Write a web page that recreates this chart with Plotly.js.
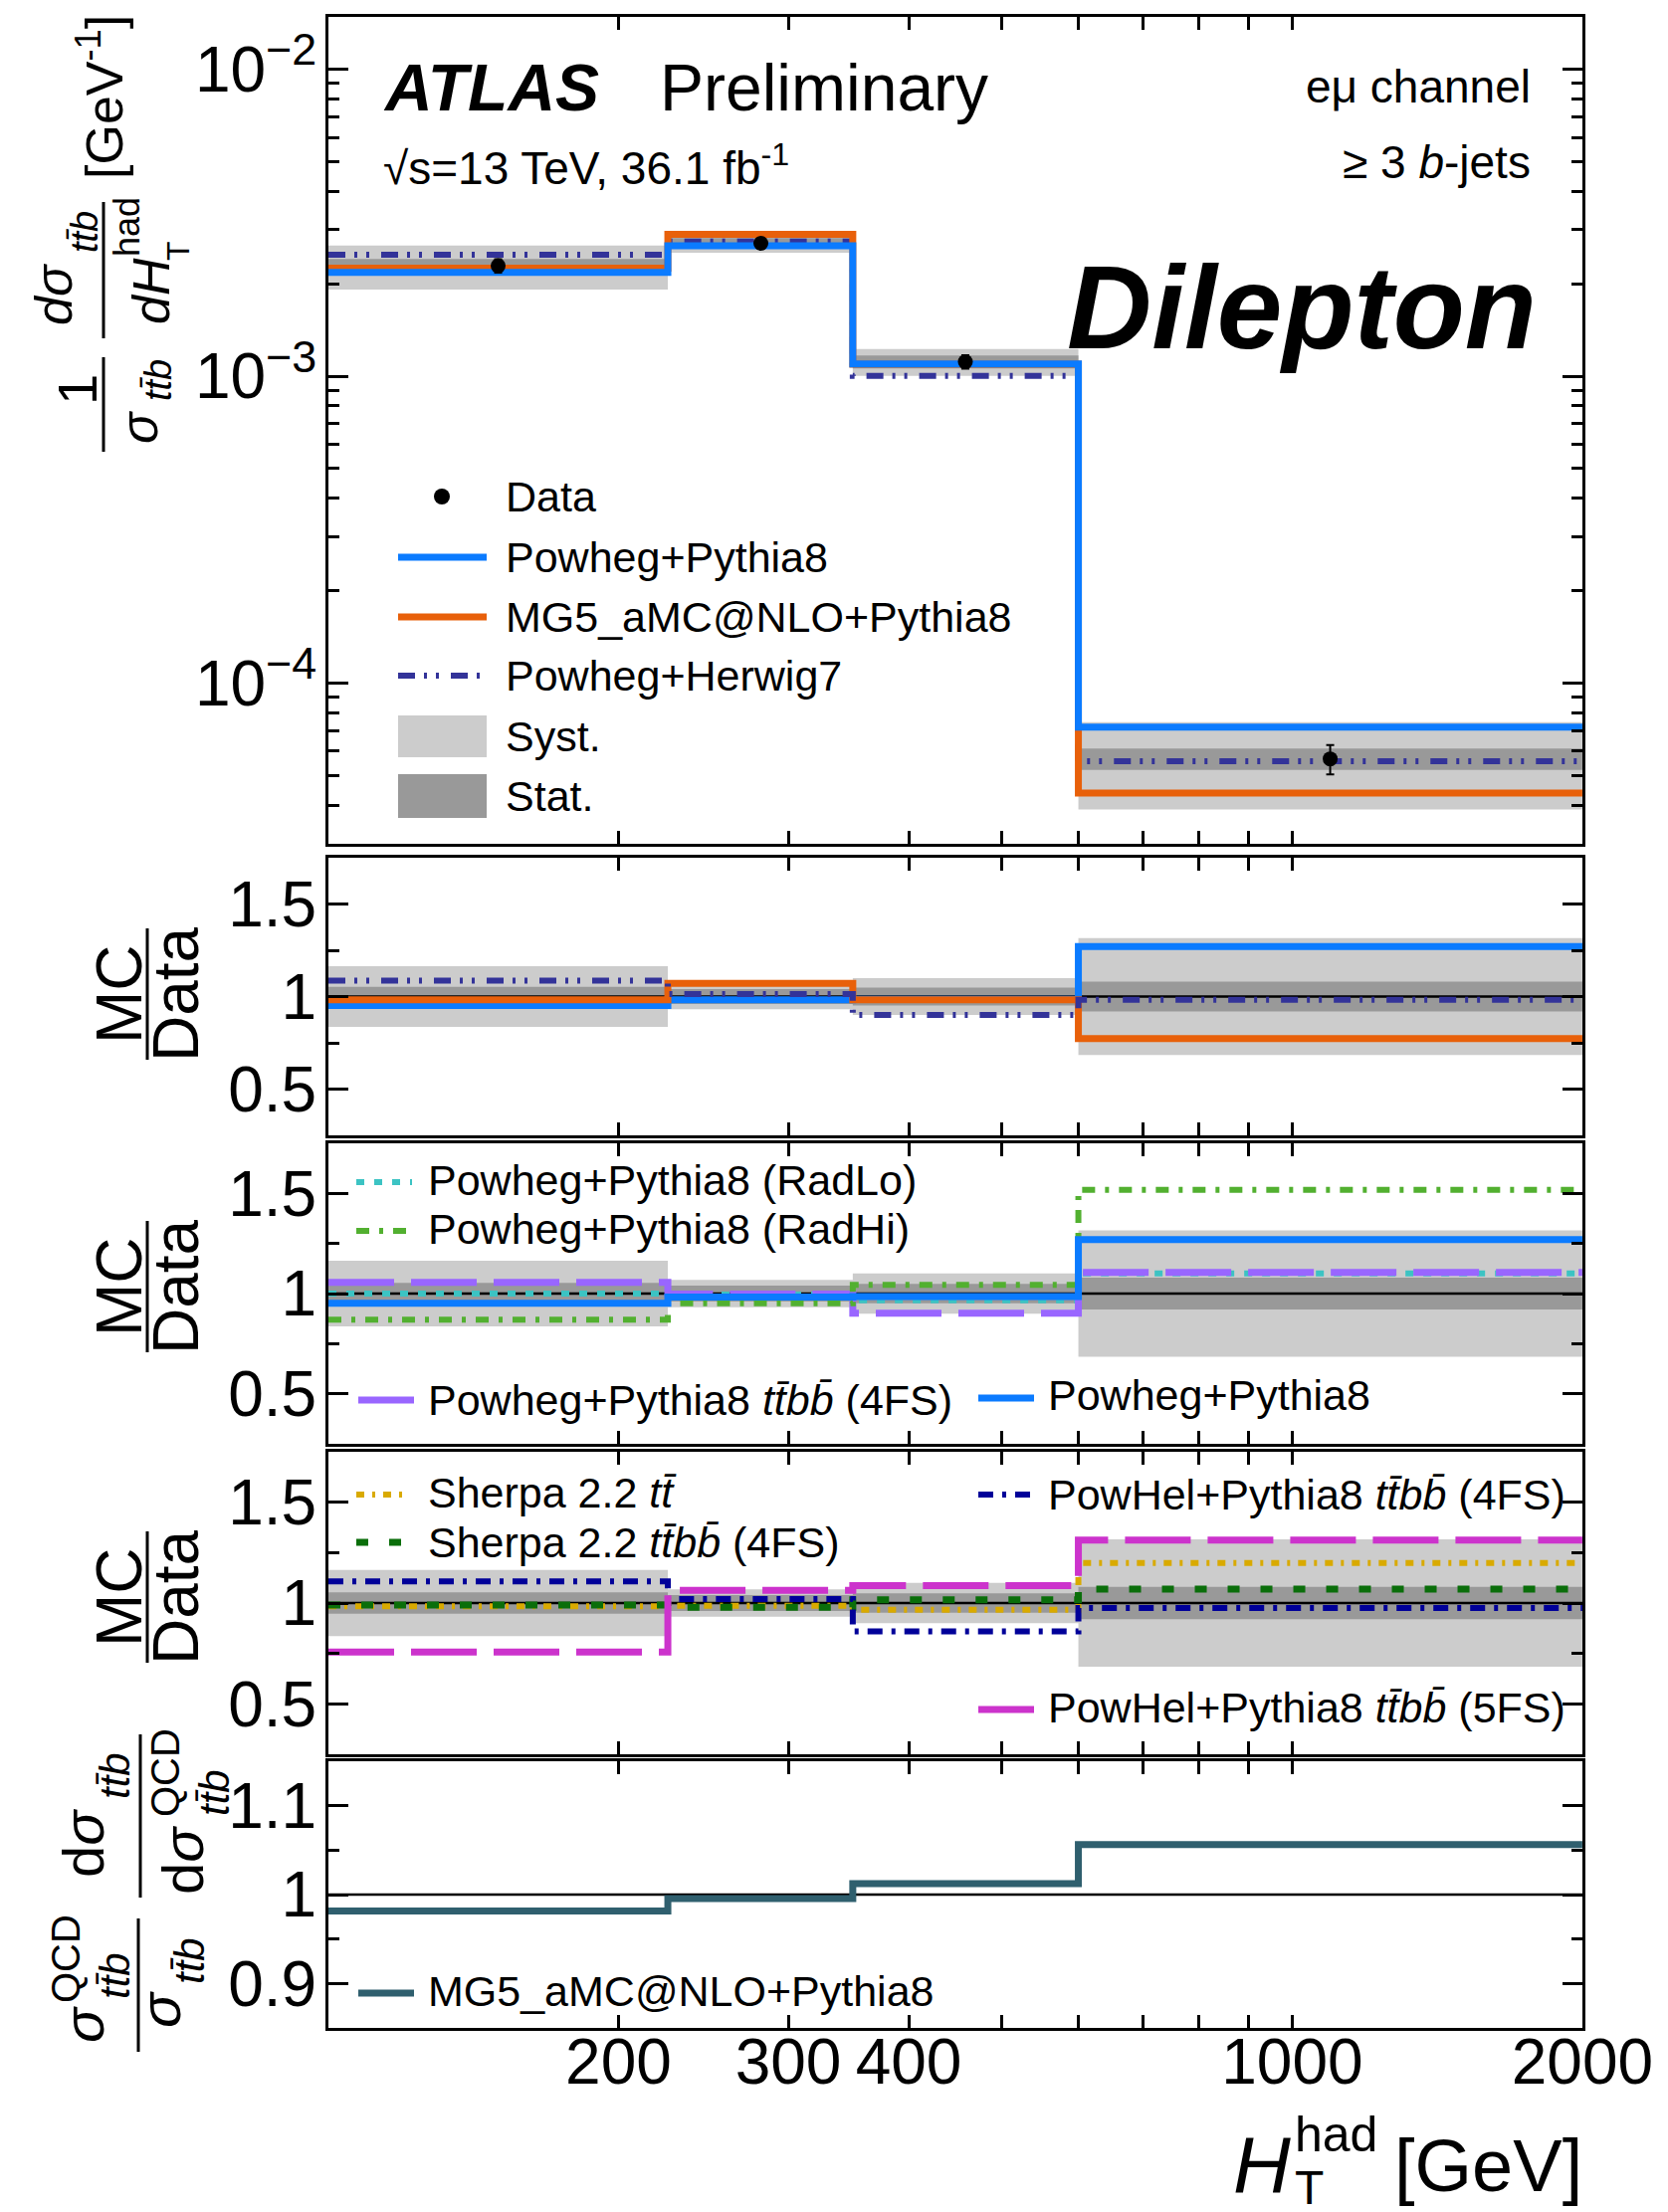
<!DOCTYPE html>
<html>
<head>
<meta charset="utf-8">
<script src="https://cdn.plot.ly/plotly-3.0.1.min.js"></script>
<style>html,body{margin:0;padding:0;background:#fff}#plot{width:1676px;height:2223px}</style>
</head>
<body>
<div id="plot"></div>
<script>
// ---------------- data ----------------
const binEdges   = [100, 225, 350, 600, 2000];          // H_T^had bin edges [GeV]
const binCentres = [150, 281, 458, 1095];               // data point positions [GeV]
const dataVals   = [2.29e-3, 2.71e-3, 1.114e-3, 5.66e-5];
const dataErrRel = [0.05, 0.04, 0.05, 0.11];
const systRel    = [0.164, 0.068, 0.100, 0.316];        // light band (half width, relative)
const statRel    = [0.053, 0.040, 0.048, 0.080];        // dark band (half width, relative)

// MC / Data ratios
const rPowhegPy8   = [0.952, 0.982, 0.985, 1.270];
const rMG5Py8      = [0.982, 1.071, 0.982, 0.773];
const rPowhegH7    = [1.086, 1.014, 0.900, 0.982];
const rRadLo       = [1.000, 0.995, 0.966, 1.100];
const rRadHi       = [0.869, 0.951, 1.044, 1.518];
const rPowhegTtbb  = [1.056, 0.998, 0.902, 1.105];
const rSherpaTt    = [0.984, 0.987, 0.967, 1.199];
const rSherpaTtbb  = [0.990, 0.979, 1.016, 1.069];
const rPowHel4FS   = [1.107, 1.020, 0.859, 0.975];
const rPowHel5FS   = [0.757, 1.0625, 1.086, 1.3125];
const rQCDcorr     = [0.9815, 0.9956, 1.0122, 1.0563];

// axis tick labels
const xTickVals = [200, 300, 400, 1000, 2000];
const xTickText = ['200', '300', '400', '1000', '2000'];
const xMinorVals = [500, 600, 700, 800, 900];
const xLongTicks = [1000];
const mainYTickVals = [1e-4, 1e-3, 1e-2];
const mainYTickText = ['10<sup>\u22124</sup>', '10<sup>\u22123</sup>', '10<sup>\u22122</sup>'];
const ratioTickVals = [0.5, 1, 1.5];
const ratioTickText = ['0.5', '1', '1.5'];
const ratioMinor = [0.75, 1.25];
const qcdTickVals = [0.9, 1, 1.1];
const qcdTickText = ['0.9', '1', '1.1'];
const qcdMinor = [0.95, 1.05];

// ---------------- styles ----------------
const F = 'Liberation Sans, Arial, Helvetica, sans-serif';
const C = {
  blue: '#0b7bff', orange: '#e8600a', herwig: '#333399',
  cyan: '#3cc3c3', green: '#52b030', purple: '#9966ff',
  gold: '#d9aa00', dgreen: '#0a6e0a', navy: '#000099', magenta: '#cc33cc',
  teal: '#2f5f6e', syst: '#cccccc', stat: '#999999'
};
const D = {
  herwig: '17px,9px,3px,9px,3px,12px',
  cyan: '8px,10px',
  green: '13px,10px,4px,10px',
  longdash: '66px,17px',
  gold: '8px,8px,3px,8px',
  dgreen: '12px,21px',
  navy: '15px,9px,4px,9px'
};

const W = 1676, H = 2223;
const PL = 330, PR = 1590, PT = 17, PB = 2038;
const px = x => (x - PL) / (PR - PL);
const py = y => (PB - y) / (PB - PT);
const panels = [[17, 848], [862, 1141], [1149, 1451], [1459, 1763], [1770, 2038]];
const axn = k => (k === 1 ? '' : String(k));

// ---------------- traces ----------------
const traces = [];
const step = v => v.concat([v[v.length - 1]]);
function addBand(k, lo, hi, color) {
  const xa = 'x' + axn(k), ya = 'y' + axn(k);
  traces.push({x: binEdges, y: step(lo), xaxis: xa, yaxis: ya, mode: 'lines',
    line: {width: 0, shape: 'hv'}, hoverinfo: 'skip', showlegend: false});
  traces.push({x: binEdges, y: step(hi), xaxis: xa, yaxis: ya, mode: 'lines',
    line: {width: 0, shape: 'hv'}, fill: 'tonexty', fillcolor: color, hoverinfo: 'skip', showlegend: false});
}
function addStep(k, vals, color, width, dash) {
  traces.push({x: binEdges, y: step(vals), xaxis: 'x' + axn(k), yaxis: 'y' + axn(k), mode: 'lines',
    line: {color: color, width: width, dash: dash || 'solid', shape: 'hv'}, hoverinfo: 'skip', showlegend: false});
}
function addUnity(k) {
  traces.push({x: [binEdges[0], binEdges[binEdges.length - 1]], y: [1, 1], xaxis: 'x' + axn(k), yaxis: 'y' + axn(k),
    mode: 'lines', line: {color: '#000', width: 2.5}, hoverinfo: 'skip', showlegend: false});
}

// main panel
addBand(1, dataVals.map((d, i) => d * (1 - systRel[i])), dataVals.map((d, i) => d * (1 + systRel[i])), C.syst);
addBand(1, dataVals.map((d, i) => d * (1 - statRel[i])), dataVals.map((d, i) => d * (1 + statRel[i])), C.stat);
addStep(1, dataVals.map((d, i) => d * rPowhegH7[i]), C.herwig, 6, D.herwig);
addStep(1, dataVals.map((d, i) => d * rMG5Py8[i]), C.orange, 7);
addStep(1, dataVals.map((d, i) => d * rPowhegPy8[i]), C.blue, 7);
traces.push({x: binCentres, y: dataVals, xaxis: 'x', yaxis: 'y', mode: 'markers',
  marker: {color: '#000', size: 15},
  error_y: {type: 'data', array: dataVals.map((d, i) => d * dataErrRel[i]), color: '#000', thickness: 2, width: 4},
  hoverinfo: 'skip', showlegend: false});

// ratio panels with bands
[2, 3, 4].forEach(k => {
  addBand(k, systRel.map(s => 1 - s), systRel.map(s => 1 + s), C.syst);
  addBand(k, statRel.map(s => 1 - s), statRel.map(s => 1 + s), C.stat);
  addUnity(k);
});
addUnity(5);

// ratio 1
addStep(2, rPowhegPy8, C.blue, 7);
addStep(2, rMG5Py8, C.orange, 7);
addStep(2, rPowhegH7, C.herwig, 6, D.herwig);
// ratio 2
addStep(3, rRadLo, C.cyan, 6, D.cyan);
addStep(3, rPowhegTtbb, C.purple, 7, D.longdash);
addStep(3, rRadHi, C.green, 6, D.green);
addStep(3, rPowhegPy8, C.blue, 7);
// ratio 3
addStep(4, rSherpaTt, C.gold, 6, D.gold);
addStep(4, rSherpaTtbb, C.dgreen, 7, D.dgreen);
addStep(4, rPowHel4FS, C.navy, 6, D.navy);
addStep(4, rPowHel5FS, C.magenta, 7, D.longdash);
// ratio 4
addStep(5, rQCDcorr, C.teal, 7);

// ---------------- annotations & shapes ----------------
const ann = [];
const shp = [];
function txt(x, y, text, size, xanchor, extra) {
  ann.push(Object.assign({xref: 'paper', yref: 'paper', x: px(x), y: py(y), text: text, showarrow: false,
    xanchor: xanchor || 'left', yanchor: 'middle', font: {family: F, size: size, color: '#000'}}, extra || {}));
}
function rtxt(x, y, text, size) { txt(x, y, text, size, 'center', {textangle: -90}); }
function lineSample(x0, x1, y, color, width, dash) {
  shp.push({type: 'line', xref: 'paper', yref: 'paper', x0: px(x0), x1: px(x1), y0: py(y), y1: py(y),
    line: {color: color, width: width, dash: dash || 'solid'}});
}
function vbar(x, y0, y1) {
  shp.push({type: 'line', xref: 'paper', yref: 'paper', x0: px(x), x1: px(x), y0: py(y0), y1: py(y1),
    line: {color: '#000', width: 3}});
}
function box(x0, x1, y0, y1, color) {
  shp.push({type: 'rect', xref: 'paper', yref: 'paper', x0: px(x0), x1: px(x1), y0: py(y1), y1: py(y0),
    fillcolor: color, line: {width: 0}});
}

// long x ticks at 1000 (top and bottom of each panel)
panels.forEach((p, i) => {
  const k = i + 1, h = p[1] - p[0];
  xLongTicks.forEach(v => {
    const lv = Math.log10(v);
    shp.push({type: 'line', xref: 'x' + axn(k), yref: 'y' + axn(k) + ' domain', x0: lv, x1: lv, y0: 0, y1: 27 / h, line: {color: '#000', width: 3}});
    shp.push({type: 'line', xref: 'x' + axn(k), yref: 'y' + axn(k) + ' domain', x0: lv, x1: lv, y0: 1 - 27 / h, y1: 1, line: {color: '#000', width: 3}});
  });
});

// header texts
txt(383, 88, '<b><i>ATLAS</i></b>', 66);
txt(661, 88, 'Preliminary', 66);
txt(383, 166, '\u221As=13 TeV, 36.1 fb<sup>-1</sup>', 46);
txt(1540, 87, 'e\u03bc channel', 46, 'right');
txt(1540, 163, '\u2265 3 <i>b</i>-jets', 46, 'right');
txt(1546, 309, '<b><i>Dilepton</i></b>', 118, 'right');

// main legend
shp.push({type: 'circle', xref: 'paper', yref: 'paper', x0: px(444 - 8), x1: px(444 + 8), y0: py(499 + 8), y1: py(499 - 8), fillcolor: '#000', line: {width: 0}});
txt(506, 499, 'Data', 43);
lineSample(400, 489, 560, C.blue, 7);
txt(506, 560, 'Powheg+Pythia8', 43);
lineSample(400, 489, 620, C.orange, 7);
txt(506, 620, 'MG5_aMC@NLO+Pythia8', 43);
lineSample(400, 489, 679, C.herwig, 6, D.herwig);
txt(506, 679, 'Powheg+Herwig7', 43);
box(400, 489, 719, 761, C.syst);
txt(506, 740, 'Syst.', 43);
box(400, 489, 778, 822, C.stat);
txt(506, 800, 'Stat.', 43);

// ratio 2 legend
const ttbb = '<i>tt\u0304bb\u0304</i>';
lineSample(358, 414, 1188, C.cyan, 6, D.cyan);
txt(428, 1186, 'Powheg+Pythia8 (RadLo)', 43);
lineSample(358, 414, 1237, C.green, 6, D.green);
txt(428, 1235, 'Powheg+Pythia8 (RadHi)', 43);
lineSample(360, 416, 1407, C.purple, 7);
txt(428, 1407, 'Powheg+Pythia8 ' + ttbb + ' (4FS)', 43);
lineSample(983, 1039, 1405, C.blue, 7);
txt(1051, 1402, 'Powheg+Pythia8', 43);

// ratio 3 legend
lineSample(358, 410, 1502, C.gold, 6, D.gold);
txt(428, 1500, 'Sherpa 2.2 <i>tt\u0304</i>', 43);
lineSample(358, 410, 1550, C.dgreen, 7, D.dgreen);
txt(428, 1550, 'Sherpa 2.2 ' + ttbb + ' (4FS)', 43);
lineSample(983, 1039, 1502, C.navy, 6, D.navy);
txt(1051, 1502, 'PowHel+Pythia8 ' + ttbb + ' (4FS)', 43);
lineSample(983, 1039, 1718, C.magenta, 7);
txt(1051, 1716, 'PowHel+Pythia8 ' + ttbb + ' (5FS)', 43);

// ratio 4 legend
lineSample(360, 416, 2003, C.teal, 7);
txt(428, 2001, 'MG5_aMC@NLO+Pythia8', 43);

// main y title (fractions)
const tb = '<i>tt\u0304b</i>';
rtxt(101, 98, '[GeV<sup>-1</sup>]', 52);
rtxt(54, 296, '<i>d\u03c3</i>', 52);
rtxt(85, 233, tb, 38);
vbar(104, 203, 340);
rtxt(152, 293, '<i>dH</i>', 52);
rtxt(127, 228, 'had', 36);
rtxt(179, 252, 'T', 32);
rtxt(77, 392, '1', 56);
vbar(104, 359, 454);
rtxt(140, 430, '<i>\u03c3</i>', 52);
rtxt(159, 382, tb, 38);

// MC / Data titles
[999, 1293, 1605].forEach(yc => {
  rtxt(120, yc, 'MC', 64);
  vbar(148, yc - 66, yc + 66);
  rtxt(177, yc, 'Data', 64);
});

// ratio 4 title
rtxt(83, 1853, 'd<i>\u03c3</i>', 58);
rtxt(115, 1785, tb, 42);
vbar(141, 1743, 1907);
rtxt(183, 1870, 'd<i>\u03c3</i>', 58);
rtxt(166, 1782, 'QCD', 40);
rtxt(215, 1802, tb, 42);
rtxt(83, 2035, '<i>\u03c3</i>', 58);
rtxt(66, 1969, 'QCD', 40);
rtxt(115, 1986, tb, 42);
vbar(139, 1928, 2062);
rtxt(160, 2020, '<i>\u03c3</i>', 58);
rtxt(190, 1971, tb, 42);

// x title
txt(1592, 2176, '[GeV]', 74, 'right');
txt(1268, 2175, '<i>H</i>', 80, 'center');
txt(1299, 2145, 'had', 50, 'left');
txt(1299, 2198, 'T', 48, 'left');

// ---------------- axes ----------------
const layout = {
  width: W, height: H,
  margin: {l: PL, r: W - PR, t: PT, b: H - PB, pad: 0},
  paper_bgcolor: '#fff', plot_bgcolor: 'rgba(0,0,0,0)',
  showlegend: false, font: {family: F, color: '#000'},
  annotations: ann, shapes: shp
};
const xRange = [Math.log10(binEdges[0]), Math.log10(binEdges[binEdges.length - 1]) + 1e-4];
panels.forEach((p, i) => {
  const k = i + 1;
  const dom = [py(p[1]), py(p[0])];
  layout['xaxis' + axn(k)] = {
    type: 'log', range: xRange, domain: [0, 1], anchor: 'y' + axn(k),
    showline: true, linewidth: 3, linecolor: '#000', mirror: 'ticks',
    ticks: 'inside', ticklen: 13, tickwidth: 3, tickcolor: '#000',
    tickmode: 'array', tickvals: xTickVals, ticktext: xTickText,
    showticklabels: k === 5, ticklabelstandoff: -24,
    tickfont: {family: F, size: 64, color: '#000'},
    minor: {tickmode: 'array', tickvals: xMinorVals, ticks: 'inside', ticklen: 13, tickwidth: 3, tickcolor: '#000'},
    showgrid: false, zeroline: false, fixedrange: true
  };
  const y = {
    domain: dom, anchor: 'x' + axn(k),
    showline: true, linewidth: 3, linecolor: '#000', mirror: 'ticks',
    ticks: 'inside', ticklen: 20, tickwidth: 3, tickcolor: '#000',
    tickmode: 'array', ticklabelstandoff: -4,
    tickfont: {family: F, size: 64, color: '#000'},
    showgrid: false, zeroline: false, fixedrange: true
  };
  if (k === 1) {
    const minors = [];
    for (let d = -5; d <= -2; d++) for (let m = 2; m <= 9; m++) minors.push(m * Math.pow(10, d));
    Object.assign(y, {type: 'log', range: [-4.524, -1.829], tickvals: mainYTickVals, ticktext: mainYTickText,
      minor: {tickmode: 'array', tickvals: minors, ticks: 'inside', ticklen: 11, tickwidth: 3, tickcolor: '#000'}});
  } else if (k === 5) {
    Object.assign(y, {range: [0.85, 1.15], tickvals: qcdTickVals, ticktext: qcdTickText,
      minor: {tickmode: 'array', tickvals: qcdMinor, ticks: 'inside', ticklen: 11, tickwidth: 3, tickcolor: '#000'}});
  } else {
    Object.assign(y, {range: [0.25, 1.75], tickvals: ratioTickVals, ticktext: ratioTickText,
      minor: {tickmode: 'array', tickvals: ratioMinor, ticks: 'inside', ticklen: 11, tickwidth: 3, tickcolor: '#000'}});
  }
  layout['yaxis' + axn(k)] = y;
});

Plotly.newPlot('plot', traces, layout, {displayModeBar: false, staticPlot: true});
</script>
</body>
</html>
